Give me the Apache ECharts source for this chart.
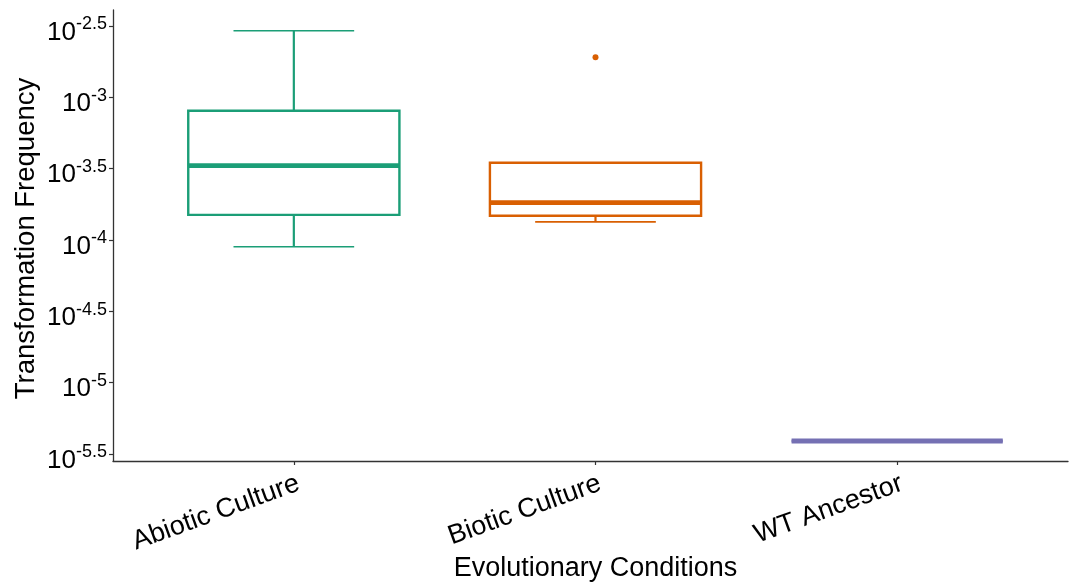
<!DOCTYPE html>
<html>
<head>
<meta charset="utf-8">
<title>Transformation Frequency by Evolutionary Condition</title>
<script src="https://cdn.jsdelivr.net/npm/echarts@6/dist/echarts.min.js"></script>
<style>
  html, body { margin: 0; padding: 0; background: #fff; }
  #chart { width: 1070px; height: 585px; }
</style>
</head>
<body>
<div id="chart"></div>
<script>
// Evolutionary conditions on the x axis
const categories = ['Abiotic Culture', 'Biotic Culture', 'WT Ancestor'];

// Box statistics per condition: [lower whisker, Q1, median, Q3, upper whisker]
const abioticStats = [8.97e-5, 1.50e-4, 3.32e-4, 8.05e-4, 2.93e-3];
const bioticStats = [1.34e-4, 1.48e-4, 1.83e-4, 3.48e-4, 3.48e-4];
const wtAncestorStats = [3.90e-6, 3.90e-6, 3.90e-6, 3.90e-6, 3.90e-6];

// Outlying points: [category index, frequency]
const bioticOutliers = [[1, 1.91e-3]];

// Exponents shown on the y axis as 10^x
const yTickExponents = [-5.5, -5, -4.5, -4, -3.5, -3, -2.5];

const boxColors = ['#1B9E77', '#D95F02', '#7570B3'];
const FONT = '"Liberation Sans", Arial, Helvetica, sans-serif';

const boxData = [abioticStats, bioticStats, wtAncestorStats].map(function (s, i) {
  return [i].concat(s);
});
const yTickValues = yTickExponents.map(function (e) { return Math.pow(10, e); });

function renderBox(params, api) {
  const idx = api.value(0);
  const band = api.size([1, 0])[0];
  const color = boxColors[idx];
  const pMin = api.coord([idx, api.value(1)]);
  const pQ1 = api.coord([idx, api.value(2)]);
  const pMed = api.coord([idx, api.value(3)]);
  const pQ3 = api.coord([idx, api.value(4)]);
  const pMax = api.coord([idx, api.value(5)]);
  const x = pMed[0];
  const halfBox = band * 0.35;
  const halfCap = band * 0.2;
  const line = function (x1, y1, x2, y2, w) {
    return {
      type: 'line',
      shape: { x1: x1, y1: y1, x2: x2, y2: y2 },
      style: { stroke: color, lineWidth: w, fill: null }
    };
  };
  return {
    type: 'group',
    children: [
      line(x, pQ3[1], x, pMax[1], 2.2),
      line(x, pQ1[1], x, pMin[1], 2.2),
      line(x - halfCap, pMax[1], x + halfCap, pMax[1], 1.6),
      line(x - halfCap, pMin[1], x + halfCap, pMin[1], 1.6),
      {
        type: 'rect',
        shape: { x: x - halfBox, y: pQ3[1], width: halfBox * 2, height: pQ1[1] - pQ3[1] },
        style: { fill: '#fff', stroke: color, lineWidth: 2.4 }
      },
      line(x - halfBox, pMed[1], x + halfBox, pMed[1], 4.8)
    ]
  };
}

const chart = echarts.init(document.getElementById('chart'), null, { renderer: 'canvas' });

chart.setOption({
  backgroundColor: '#fff',
  animation: false,
  textStyle: { fontFamily: FONT },
  grid: [
    { left: 143, right: 22, top: 10, bottom: 124, outerBoundsMode: 'none', containLabel: false },
    { left: 113, right: 2, top: 10, bottom: 124, outerBoundsMode: 'none', containLabel: false }
  ],
  xAxis: [
    {
      type: 'category',
      gridIndex: 0,
      data: categories,
      boundaryGap: true,
      axisLine: { show: false },
      axisTick: { show: true, alignWithLabel: true, length: 4, lineStyle: { color: '#333', width: 1.2 } },
      axisLabel: {
        rotate: 20,
        align: 'right',
        verticalAlign: 'top',
        margin: 9,
        fontSize: 27,
        color: '#000',
        fontFamily: FONT
      },
      splitLine: { show: false },
      name: 'Evolutionary Conditions',
      nameLocation: 'middle',
      nameMoveOverlap: false,
      nameGap: 94,
      nameTextStyle: { fontSize: 27, color: '#000', fontFamily: FONT }
    },
    {
      type: 'value',
      gridIndex: 1,
      min: 0,
      max: 1,
      axisLine: { show: true, lineStyle: { color: '#333', width: 1.3 } },
      axisTick: { show: false },
      axisLabel: { show: false },
      splitLine: { show: false }
    }
  ],
  yAxis: [
    {
      type: 'log',
      logBase: 10,
      gridIndex: 0,
      min: Math.pow(10, -5.549),
      max: Math.pow(10, -2.388),
      offset: 30,
      axisLine: { show: true, lineStyle: { color: '#333', width: 1.3 } },
      axisTick: { show: true, length: 4, customValues: yTickValues, lineStyle: { color: '#333', width: 1.2 } },
      minorTick: { show: false },
      splitLine: { show: false },
      axisLabel: {
        customValues: yTickValues,
        margin: 6,
        padding: [9, 0, 0, 0],
        formatter: function (v) {
          const e = Math.round(Math.log10(v) * 2) / 2;
          return '{b|10}{s|' + String(e) + '}';
        },
        rich: {
          b: { fontSize: 26, lineHeight: 30, verticalAlign: 'bottom', color: '#000', fontFamily: FONT },
          s: { fontSize: 18, lineHeight: 18, verticalAlign: 'top', color: '#000', fontFamily: FONT }
        }
      },
      name: 'Transformation Frequency',
      nameLocation: 'middle',
      nameMoveOverlap: false,
      nameGap: 73,
      nameTextStyle: { fontSize: 27.5, color: '#000', fontFamily: FONT, padding: [0, 6, 0, 0] }
    },
    {
      type: 'value',
      gridIndex: 1,
      show: false
    }
  ],
  series: [
    {
      type: 'custom',
      name: 'Transformation frequency',
      xAxisIndex: 0,
      yAxisIndex: 0,
      renderItem: renderBox,
      encode: { x: 0, y: [1, 2, 3, 4, 5] },
      data: boxData,
      clip: false,
      z: 2
    },
    {
      type: 'scatter',
      name: 'Outliers',
      xAxisIndex: 0,
      yAxisIndex: 0,
      data: bioticOutliers,
      symbol: 'circle',
      symbolSize: 6,
      itemStyle: { color: boxColors[1], opacity: 1 },
      z: 3
    }
  ]
});
</script>
</body>
</html>
